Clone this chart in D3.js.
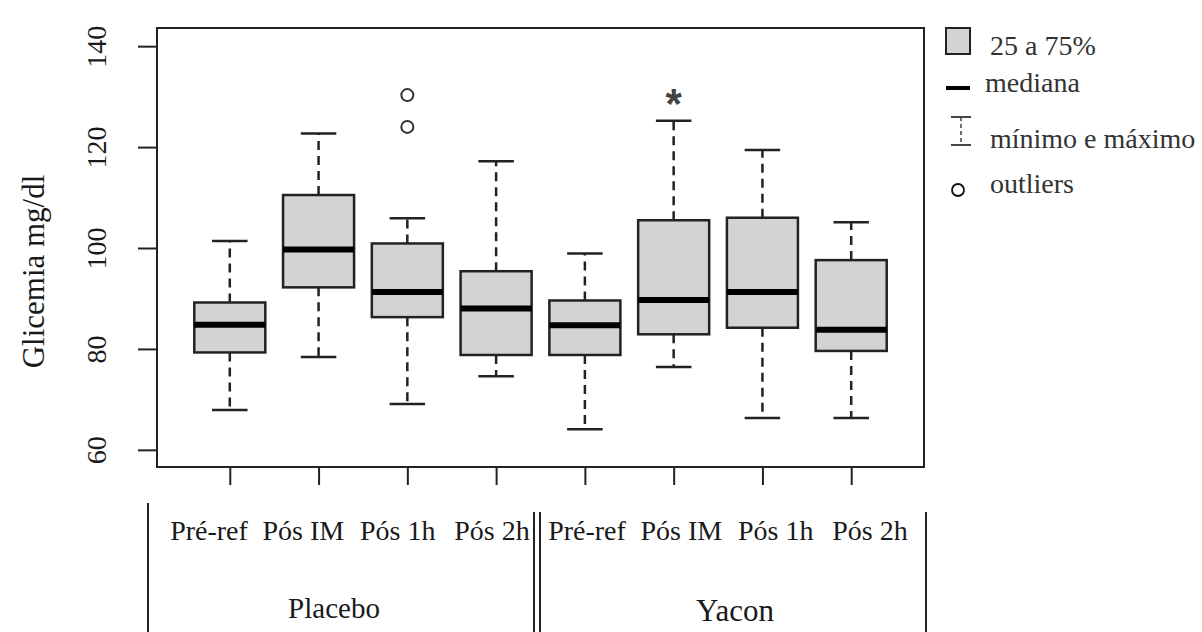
<!DOCTYPE html>
<html>
<head>
<meta charset="utf-8">
<script src="https://cdn.jsdelivr.net/npm/d3@7"></script>
<style>
  body { margin: 0; background: #fff; }
  svg text { font-family: "Liberation Serif", "Times New Roman", serif; fill: #1a1a1a; }
</style>
</head>
<body>
<div id="chart"></div>
<script>
// Glicemia data
var groups = ['Placebo', 'Yacon'];
var times = ['Pré-ref', 'Pós IM', 'Pós 1h', 'Pós 2h'];
var whiskerLow = [67.9, 78.4, 69.1, 74.6, 64.1, 76.4, 66.3, 66.3];
var q1 = [79.3, 92.2, 86.3, 78.8, 78.8, 82.9, 84.2, 79.6];
var median = [84.8, 99.7, 91.3, 88.0, 84.7, 89.7, 91.3, 83.8];
var q3 = [89.2, 110.5, 100.9, 95.4, 89.6, 105.5, 106.0, 97.6];
var whiskerHigh = [101.4, 122.7, 105.9, 117.2, 98.9, 125.2, 119.4, 105.1];
var outliers = [{box: 3, value: 130.3}, {box: 3, value: 124.0}];
var stars = [{box: 6, value: 130.6}];
var yTicks = [60, 80, 100, 120, 140];
var legendItems = ['25 a 75%', 'mediana', 'mínimo e máximo', 'outliers'];

var serif = '"Liberation Serif", "Times New Roman", serif';

var opts = {
  width: 1202,
  height: 632,
  plot: {left: 157, right: 924, top: 28, bottom: 467},
  boxWidth: 0.8,
  capWidth: 0.4,
  fill: '#d3d3d3',
  stroke: '#222'
};

var boxes = d3.range(whiskerLow.length).map(function(i) {
  return {
    pos: i + 1,
    lo: whiskerLow[i], q1: q1[i], med: median[i], q3: q3[i], hi: whiskerHigh[i]
  };
});

var svg = d3.select('#chart').append('svg')
  .attr('width', opts.width)
  .attr('height', opts.height);

// R style: range 0.5..n+0.5 extended by 4%
var xScale = d3.scaleLinear()
  .domain([0.18, boxes.length + 0.82])
  .range([opts.plot.left, opts.plot.right]);

var yScale = d3.scaleLinear()
  .domain([56.6, 143.6])
  .range([opts.plot.bottom, opts.plot.top]);

var bw = xScale(1 + opts.boxWidth / 2) - xScale(1);
var cw = xScale(1 + opts.capWidth / 2) - xScale(1);

/* === Axes === */

var yAxis = d3.axisLeft(yScale).tickValues(yTicks).tickSize(19).tickFormat(d3.format('d'));
var yAxisG = svg.append('g')
  .attr('transform', 'translate(' + (opts.plot.left) + ',0)')
  .call(yAxis);
yAxisG.select('.domain').remove();
yAxisG.selectAll('.tick line').attr('stroke', opts.stroke).attr('stroke-width', 2);
yAxisG.selectAll('.tick text')
  .style('font-family', serif)
  .style('font-size', '28px')
  .style('fill', '#1a1a1a')
  .attr('x', 0).attr('dy', 0)
  .attr('text-anchor', 'middle')
  .attr('transform', 'translate(-51,0) rotate(-90)');

var xAxis = d3.axisBottom(xScale).tickValues(boxes.map(function(d) { return d.pos; }))
  .tickSize(18).tickFormat('');
var xAxisG = svg.append('g')
  .attr('transform', 'translate(0,' + opts.plot.bottom + ')')
  .call(xAxis);
xAxisG.select('.domain').remove();
xAxisG.selectAll('.tick line').attr('stroke', opts.stroke).attr('stroke-width', 2);

svg.append('text')
  .attr('transform', 'translate(44,' + ((opts.plot.top + opts.plot.bottom) / 2 + 24) + ') rotate(-90)')
  .attr('text-anchor', 'middle')
  .style('font-family', serif)
  .style('font-size', '31px')
  .text('Glicemia mg/dl');

/* === Boxes === */

var g = svg.append('g');

var box = g.selectAll('g.box').data(boxes).enter().append('g').attr('class', 'box');

// whiskers
box.append('line')
  .attr('x1', function(d) { return xScale(d.pos); })
  .attr('x2', function(d) { return xScale(d.pos); })
  .attr('y1', function(d) { return yScale(d.q3); })
  .attr('y2', function(d) { return yScale(d.hi); })
  .attr('stroke', opts.stroke).attr('stroke-width', 2.5).attr('stroke-dasharray', '9,6');
box.append('line')
  .attr('x1', function(d) { return xScale(d.pos); })
  .attr('x2', function(d) { return xScale(d.pos); })
  .attr('y1', function(d) { return yScale(d.q1); })
  .attr('y2', function(d) { return yScale(d.lo); })
  .attr('stroke', opts.stroke).attr('stroke-width', 2.5).attr('stroke-dasharray', '9,6');

// caps
['hi', 'lo'].forEach(function(k) {
  box.append('line')
    .attr('x1', function(d) { return xScale(d.pos) - cw; })
    .attr('x2', function(d) { return xScale(d.pos) + cw; })
    .attr('y1', function(d) { return yScale(d[k]); })
    .attr('y2', function(d) { return yScale(d[k]); })
    .attr('stroke', opts.stroke).attr('stroke-width', 2.5);
});

box.append('rect')
  .attr('x', function(d) { return xScale(d.pos) - bw; })
  .attr('width', 2 * bw)
  .attr('y', function(d) { return yScale(d.q3); })
  .attr('height', function(d) { return yScale(d.q1) - yScale(d.q3); })
  .attr('fill', opts.fill)
  .attr('stroke', opts.stroke).attr('stroke-width', 2.5);

box.append('line')
  .attr('x1', function(d) { return xScale(d.pos) - bw; })
  .attr('x2', function(d) { return xScale(d.pos) + bw; })
  .attr('y1', function(d) { return yScale(d.med); })
  .attr('y2', function(d) { return yScale(d.med); })
  .attr('stroke', '#000').attr('stroke-width', 6);

g.selectAll('circle.outlier').data(outliers).enter().append('circle')
  .attr('class', 'outlier')
  .attr('cx', function(d) { return xScale(d.box); })
  .attr('cy', function(d) { return yScale(d.value); })
  .attr('r', 6)
  .attr('fill', '#fff')
  .attr('stroke', '#333').attr('stroke-width', 2);

g.selectAll('text.star').data(stars).enter().append('text')
  .attr('class', 'star')
  .attr('x', function(d) { return xScale(d.box); })
  .attr('y', function(d) { return yScale(d.value) + 24; })
  .attr('text-anchor', 'middle')
  .style('font-family', '"Liberation Sans", Arial, sans-serif')
  .style('font-weight', 'bold')
  .style('fill', '#444')
  .style('font-size', '42px')
  .text(function(d) { return '*'; });

// frame
svg.append('rect')
  .attr('x', opts.plot.left).attr('y', opts.plot.top)
  .attr('width', opts.plot.right - opts.plot.left)
  .attr('height', opts.plot.bottom - opts.plot.top)
  .attr('fill', 'none').attr('stroke', opts.stroke).attr('stroke-width', 2);

/* === Category table under the axis === */

var tableLines = [
  {x: 148, top: 503}, {x: 534, top: 512}, {x: 540, top: 512}, {x: 926, top: 512}
];
svg.selectAll('line.table').data(tableLines).enter().append('line')
  .attr('class', 'table')
  .attr('x1', function(d) { return d.x; }).attr('x2', function(d) { return d.x; })
  .attr('y1', function(d) { return d.top; }).attr('y2', opts.height)
  .attr('stroke', opts.stroke).attr('stroke-width', 2);

var labelRanges = {Placebo: [209, 492], Yacon: [587, 870]};
var groupCenters = {Placebo: 334, Yacon: 735};

groups.forEach(function(grp) {
  var labelScale = d3.scalePoint().domain(times).range(labelRanges[grp]);
  svg.selectAll('text.cat-' + grp).data(times).enter().append('text')
    .attr('class', 'cat-' + grp)
    .attr('x', function(d) { return labelScale(d); })
    .attr('y', 540)
    .attr('text-anchor', 'middle')
    .style('font-size', '28px')
    .text(function(d) { return d; });
  svg.append('text')
    .attr('x', groupCenters[grp])
    .attr('y', grp === 'Yacon' ? 621 : 618)
    .attr('text-anchor', 'middle')
    .style('font-size', grp === 'Yacon' ? '31px' : '29px')
    .text(grp);
});

/* === Legend === */

var legend = svg.append('g').attr('transform', 'translate(946,0)');
legend.append('rect')
  .attr('x', 0).attr('y', 28).attr('width', 24).attr('height', 26)
  .attr('fill', opts.fill).attr('stroke', opts.stroke).attr('stroke-width', 2);
legend.append('line')
  .attr('x1', 0).attr('x2', 24).attr('y1', 88).attr('y2', 88)
  .attr('stroke', '#000').attr('stroke-width', 4);
legend.append('line')
  .attr('x1', 5).attr('x2', 25).attr('y1', 117).attr('y2', 117)
  .attr('stroke', '#333').attr('stroke-width', 1.8);
legend.append('line')
  .attr('x1', 5).attr('x2', 25).attr('y1', 145).attr('y2', 145)
  .attr('stroke', '#333').attr('stroke-width', 1.8);
legend.append('line')
  .attr('x1', 15).attr('x2', 15).attr('y1', 117).attr('y2', 145)
  .attr('stroke', '#333').attr('stroke-width', 1.4).attr('stroke-dasharray', '4,3');
legend.append('circle')
  .attr('cx', 12).attr('cy', 190).attr('r', 6)
  .attr('fill', '#fff').attr('stroke', '#111').attr('stroke-width', 1.8);

var legendText = [{x: 44, y: 55}, {x: 39, y: 92}, {x: 44, y: 148}, {x: 44, y: 193}];
legend.selectAll('text').data(legendItems).enter().append('text')
  .attr('x', function(d, i) { return legendText[i].x; })
  .attr('y', function(d, i) { return legendText[i].y; })
  .style('font-size', '28px')
  .style('fill', '#333')
  .text(function(d) { return d; });
</script>
</body>
</html>
